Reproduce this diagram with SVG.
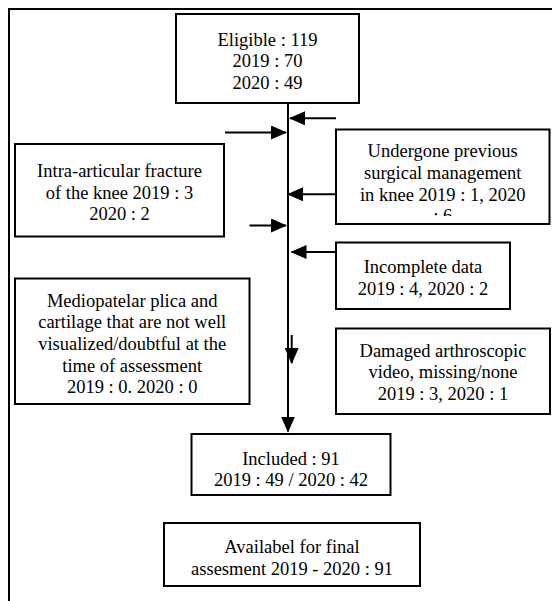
<svg xmlns="http://www.w3.org/2000/svg" width="552" height="601" viewBox="0 0 552 601">
  <style>
    .box { fill: #fff; stroke: #000; stroke-width: 2; }
    .lbl { font-family: "Liberation Serif", "Times New Roman", serif; font-size: 18.5px; fill: #000; text-anchor: middle; }
    .conn { stroke: #000; stroke-width: 2; fill: none; }
  </style>
  <defs>
    <marker id="ah" markerUnits="userSpaceOnUse" markerWidth="16" markerHeight="14" refX="15" refY="7" orient="auto">
      <path d="M0,0 L16,7 L0,14 z" fill="#000"/>
    </marker>
    <clipPath id="clipU">
      <rect x="336" y="129.5" width="214" height="86.5"/>
    </clipPath>
  </defs>
  <rect width="552" height="601" fill="#fff"/>
  <path d="M9,601 V9 H552" fill="none" stroke="#000" stroke-width="2"/>

  <g id="connectors">
    <line class="conn" x1="288" y1="103" x2="288" y2="431.5" marker-end="url(#ah)"/>
    <line class="conn" x1="336" y1="118.3" x2="290" y2="118.3" marker-end="url(#ah)"/>
    <line class="conn" x1="225" y1="132.5" x2="286" y2="132.5" marker-end="url(#ah)"/>
    <line class="conn" x1="336" y1="194.3" x2="288" y2="194.3" marker-end="url(#ah)"/>
    <line class="conn" x1="249.5" y1="225.5" x2="286" y2="225.5" marker-end="url(#ah)"/>
    <line class="conn" x1="336" y1="252" x2="291.5" y2="252" marker-end="url(#ah)"/>
    <line class="conn" x1="291.7" y1="335" x2="291.7" y2="363" marker-end="url(#ah)"/>
  </g>

  <g id="eligible">
    <rect class="box" x="176" y="14" width="183" height="89"/>
    <text class="lbl" x="267.5" y="45.5">Eligible : 119</text>
    <text class="lbl" x="267.5" y="67">2019 : 70</text>
    <text class="lbl" x="267.5" y="88.5">2020 : 49</text>
  </g>

  <g id="intra-articular">
    <rect class="box" x="15" y="144" width="209" height="92.5"/>
    <text class="lbl" x="119.5" y="177.3">Intra-articular fracture</text>
    <text class="lbl" x="119.5" y="198.5">of the knee 2019 : 3</text>
    <text class="lbl" x="119.5" y="219.5">2020 : 2</text>
  </g>

  <g id="undergone">
    <rect class="box" x="336" y="129.5" width="213.5" height="94.5"/>
    <g clip-path="url(#clipU)">
      <text class="lbl" x="442.7" y="157.3">Undergone previous</text>
      <text class="lbl" x="442.7" y="178.7">surgical management</text>
      <text class="lbl" x="442.7" y="200.5">in knee 2019 : 1, 2020</text>
      <text class="lbl" x="442.7" y="222">: 6</text>
    </g>
  </g>

  <g id="incomplete">
    <rect class="box" x="336" y="242.5" width="174" height="66.5"/>
    <text class="lbl" x="423" y="273.3">Incomplete data</text>
    <text class="lbl" x="423" y="294.5">2019 : 4, 2020 : 2</text>
  </g>

  <g id="mediopatelar">
    <rect class="box" x="15" y="278.5" width="234.5" height="125.5"/>
    <text class="lbl" x="132.2" y="306.7">Mediopatelar plica and</text>
    <text class="lbl" x="132.2" y="328.3">cartilage that are not well</text>
    <text class="lbl" x="132.2" y="350">visualized/doubtful at the</text>
    <text class="lbl" x="132.2" y="371.5">time of assessment</text>
    <text class="lbl" x="132.2" y="393">2019 : 0. 2020 : 0</text>
  </g>

  <g id="damaged">
    <rect class="box" x="336" y="328.5" width="214" height="85.5"/>
    <text class="lbl" x="443" y="356.7">Damaged arthroscopic</text>
    <text class="lbl" x="443" y="378.3">video, missing/none</text>
    <text class="lbl" x="443" y="400">2019 : 3, 2020 : 1</text>
  </g>

  <g id="included">
    <rect class="box" x="191.5" y="434" width="199" height="61"/>
    <text class="lbl" x="291" y="465">Included : 91</text>
    <text class="lbl" x="291" y="486">2019 : 49 / 2020 : 42</text>
  </g>

  <g id="available">
    <rect class="box" x="164" y="523" width="256" height="63"/>
    <text class="lbl" x="292" y="553.3">Availabel for final</text>
    <text class="lbl" x="292" y="575">assesment 2019 - 2020 : 91</text>
  </g>
</svg>
